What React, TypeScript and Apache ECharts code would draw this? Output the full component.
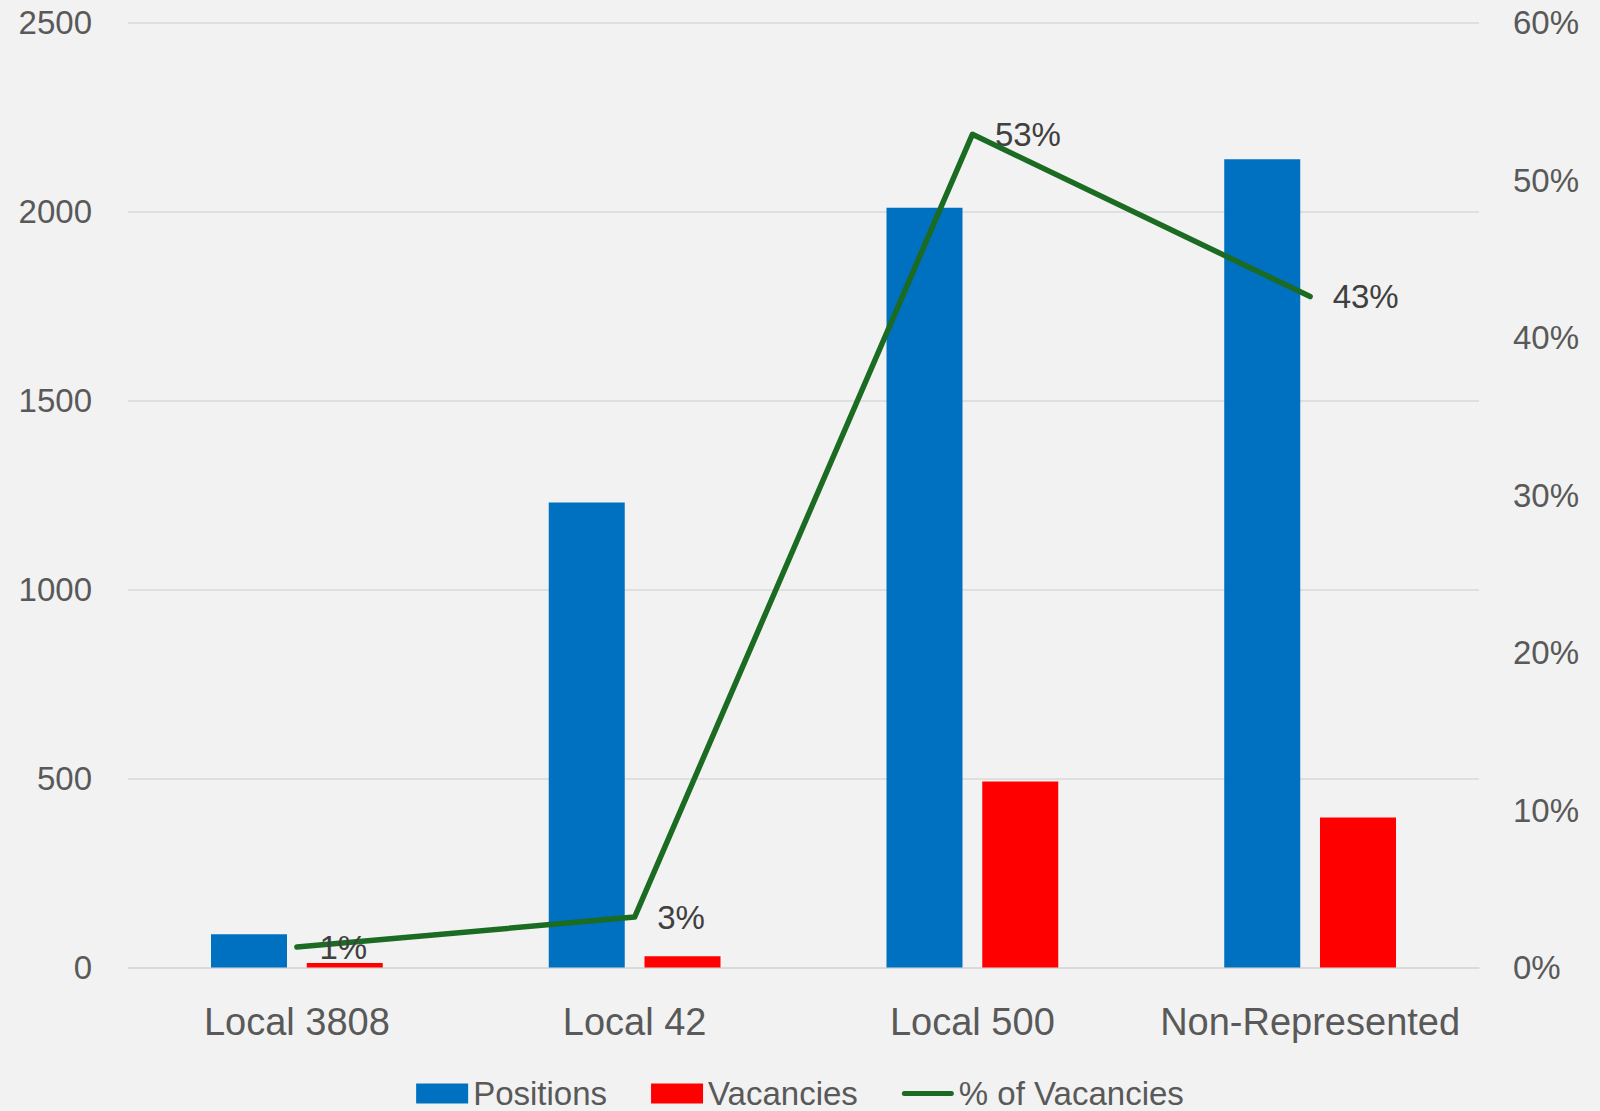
import React, { useEffect, useRef } from "react";
import * as echarts from "echarts";

const categories = ["Local 3808", "Local 42", "Local 500", "Non-Represented"];
const positions = [88, 1230, 2010, 2138];
const vacancies = [12, 30, 492, 397];
const pctVacancies = [1.3, 3.2, 52.9, 42.6];
const leftTicks = { min: 0, max: 2500, interval: 500 };
const rightTicks = { min: 0, max: 60, interval: 10 };

const FONT = "'Liberation Sans', Arial, sans-serif";

export default function App() {
  const ref = useRef<HTMLDivElement>(null);
  useEffect(() => {
    if (!ref.current) return;
    const chart = echarts.init(ref.current, null, { renderer: "svg" });
    chart.setOption({
      animation: false,
      backgroundColor: "#F2F2F2",
      textStyle: { fontFamily: FONT },
      grid: { left: 128, right: 121, top: 22.5, bottom: 143.5, containLabel: false },
      legend: {
        bottom: -4,
        left: "center",
        itemWidth: 52,
        itemHeight: 20,
        itemGap: 44,
        textStyle: { fontSize: 33, color: "#595959", fontFamily: FONT },
        data: [
          { name: "Positions", icon: "rect" },
          { name: "Vacancies", icon: "rect" },
          {
            name: "% of Vacancies",
            icon: "path://M2.5,0 H49.5 A2.5,2.5 0 0 1 49.5,5 H2.5 A2.5,2.5 0 0 1 2.5,0 Z",
          },
        ],
      },
      xAxis: {
        type: "category",
        data: categories,
        axisTick: { show: false },
        axisLine: { lineStyle: { color: "#D9D9D9", width: 1.5 } },
        axisLabel: { fontSize: 38, color: "#595959", margin: 35, interval: 0, fontFamily: FONT },
      },
      yAxis: [
        {
          type: "value",
          min: leftTicks.min,
          max: leftTicks.max,
          interval: leftTicks.interval,
          axisLine: { show: false },
          axisTick: { show: false },
          splitLine: { lineStyle: { color: "#D9D9D9", width: 1.5 } },
          axisLabel: {
            fontSize: 33,
            color: "#595959",
            margin: 36,
            fontFamily: FONT,
            formatter: (v: number) => String(v),
          },
        },
        {
          type: "value",
          min: rightTicks.min,
          max: rightTicks.max,
          interval: rightTicks.interval,
          axisLine: { show: false },
          axisTick: { show: false },
          splitLine: { show: false },
          axisLabel: {
            fontSize: 33,
            color: "#595959",
            margin: 34,
            fontFamily: FONT,
            formatter: "{value}%",
          },
        },
      ],
      series: [
        {
          name: "Positions",
          type: "bar",
          data: positions,
          barWidth: 76,
          barGap: "26%",
          itemStyle: { color: "#0070C0" },
        },
        {
          name: "Vacancies",
          type: "bar",
          data: vacancies,
          barWidth: 76,
          barGap: "26%",
          itemStyle: { color: "#FF0000" },
        },
        {
          name: "% of Vacancies",
          type: "line",
          yAxisIndex: 1,
          data: pctVacancies,
          symbol: "circle",
          symbolSize: 1,
          showSymbol: true,
          itemStyle: { color: "#1B6B23" },
          lineStyle: { color: "#1B6B23", width: 5.5, cap: "round", join: "round" },
          label: {
            show: true,
            position: "right",
            distance: 22,
            fontSize: 33,
            color: "#404040",
            fontFamily: FONT,
            formatter: (p: any) => Math.round(p.value) + "%",
          },
        },
      ],
    });
    return () => chart.dispose();
  }, []);
  return (
    <div
      ref={ref}
      style={{ position: "absolute", left: 0, top: 0, width: 1600, height: 1111 }}
    />
  );
}
